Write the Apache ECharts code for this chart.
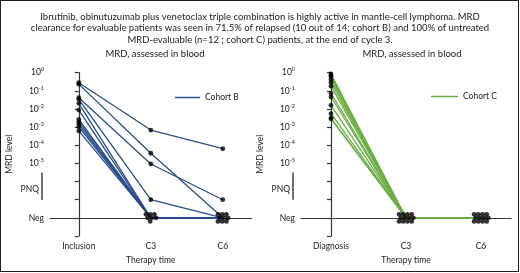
<!DOCTYPE html>
<html>
<head>
<meta charset="utf-8">
<script src="https://cdn.jsdelivr.net/npm/echarts@6/dist/echarts.min.js"></script>
<style>
  html, body { margin: 0; padding: 0; background: #fff; }
  #wrap { position: relative; width: 520px; height: 273px; }
  #chart { width: 520px; height: 273px; }
  #frame {
    position: absolute; left: 0; top: 0; width: 519px; height: 272px;
    box-sizing: border-box; border: 1.5px solid #1a1a1a; pointer-events: none;
  }
</style>
</head>
<body>
<div id="wrap"><div id="chart"></div><div id="frame"></div></div>
<script>
///////////////////////////////////////////////////
// Data
///////////////////////////////////////////////////
const headline = [
  'Ibrutinib, obinutuzumab plus venetoclax triple combination is highly active in mantle-cell lymphoma. MRD',
  'clearance for evaluable patients was seen in 71.5% of relapsed (10 out of 14; cohort B) and 100% of untreated',
  'MRD-evaluable (n=12 ; cohort C) patients, at the end of cycle 3.',
];
const panelTitle = 'MRD, assessed in blood';
const timesB = ['Inclusion', 'C3', 'C6'];
const timesC = ['Diagnosis', 'C3', 'C6'];

// y labels for plotted levels -1 .. 8 (Neg = 0, PNQ band = 1..2, 10^-5 = 3 ... 10^0 = 8)
const yLabels = ['', 'Neg', '', '', '10^-5', '10^-4', '10^-3', '10^-2', '10^-1', '10^0'];

// log10(MRD) per patient at each time point, 'PNQ' / 'Neg' when not quantifiable
const cohortB = [
  [-0.55, -3.16, -4.19],
  [-0.63, -4.44, 'Neg'],
  [-1.38, -5.03, 'PNQ'],
  [-1.47, 'PNQ', 'Neg'],
  [-1.69, 'Neg', 'Neg'],
  [-2.06, 'Neg', 'Neg'],
  [-2.57, 'Neg', 'Neg'],
  [-2.70, 'Neg', 'Neg'],
  [-2.83, 'Neg', 'Neg'],
  [-2.98, 'Neg', 'Neg'],
  [-3.21, 'Neg', 'Neg'],
];
const cohortC = [
  [-0.07, 'Neg', 'Neg'],
  [-0.15, 'Neg', 'Neg'],
  [-0.22, 'Neg', 'Neg'],
  [-0.37, 'Neg', 'Neg'],
  [-0.53, 'Neg', 'Neg'],
  [-0.74, 'Neg', 'Neg'],
  [-1.14, 'Neg', 'Neg'],
  [-1.34, 'Neg', 'Neg'],
  [-1.80, 'Neg', 'Neg'],
  [-2.26, 'Neg', 'Neg'],
  [-2.50, 'Neg', 'Neg'],
  [-2.54, 'Neg', 'Neg'],
];

///////////////////////////////////////////////////
// Chart
///////////////////////////////////////////////////
const FONT = 'Lato';
const BLUE = '#2b4c8d';
const GREEN = '#6cae45';
const INK = '#222';

const toLevel = (v) => (v === 'Neg' ? 0 : v === 'PNQ' ? 1 : 8 + v);

// pack coincident dots into a small swarm (pixel offsets), rows staggered a bit
function swarm(n, gap) {
  const cols = Math.ceil(Math.sqrt(n));
  const rows = Math.ceil(n / cols);
  const out = [];
  for (let k = 0; k < n; k++) {
    const r = Math.floor(k / cols);
    const c = k % cols;
    const inRow = Math.min(cols, n - r * cols);
    const shift = r % 2 ? gap * 0.25 : -gap * 0.15;
    out.push([(c - (inRow - 1) / 2) * gap + shift, (r - (rows - 1) / 2) * gap * 0.85]);
  }
  return out;
}

function dotData(rows) {
  const data = [];
  for (let t = 0; t < 3; t++) {
    const groups = {};
    rows.forEach((row) => {
      const lv = toLevel(row[t]);
      (groups[lv] = groups[lv] || []).push(lv);
    });
    Object.keys(groups).forEach((lv) => {
      const offs = groups[lv].length > 1 ? swarm(groups[lv].length, 4.2) : [[0, 0]];
      offs.forEach((o) => data.push({ value: [t, Number(lv)], symbolOffset: o }));
    });
  }
  return data;
}

function yLabel(v) {
  const s = yLabels[Math.round(v) + 1] || '';
  if (Math.abs(v - Math.round(v)) > 1e-6) return '';
  if (s.indexOf('^') < 0) return s;
  const p = s.split('^');
  return '{b|' + p[0] + '}{s|' + p[1] + '}';
}

function xAxis(idx, times) {
  return {
    type: 'value', gridIndex: idx, min: -0.4, max: 2.4, interval: 0.2,
    name: 'Therapy time', nameLocation: 'middle', nameGap: 19,
    nameTextStyle: { fontFamily: FONT, fontSize: 8.5, color: INK },
    axisLine: { lineStyle: { color: '#333', width: 1.2 } },
    axisTick: { show: false },
    splitLine: { show: false },
    axisLabel: {
      fontFamily: FONT, fontSize: 8.5, color: INK, margin: 6,
      formatter: (v) => {
        const i = Math.round(v);
        return Math.abs(v - i) < 1e-6 && times[i] ? times[i] : '';
      },
    },
  };
}

function yAxis(idx) {
  return {
    type: 'value', gridIndex: idx, min: -1, max: 8, interval: 1,
    name: 'MRD level', nameLocation: 'middle', nameGap: 36,
    nameTextStyle: { fontFamily: FONT, fontSize: 8.5, color: INK },
    axisLine: { show: true, lineStyle: { color: '#333', width: 1.2 } },
    axisTick: { show: true, length: 4, lineStyle: { color: '#333', width: 1.2 } },
    splitLine: { show: false },
    axisLabel: {
      fontFamily: FONT, fontSize: 8.5, color: INK, margin: 6,
      formatter: yLabel,
      rich: {
        b: { fontFamily: FONT, fontSize: 8.5, color: INK },
        s: { fontFamily: FONT, fontSize: 5.5, color: INK, padding: [0, 0, 6, 0] },
      },
    },
  };
}

function lineSeries(rows, name, idx, color) {
  return rows.map((row) => ({
    name: name, type: 'line', xAxisIndex: idx, yAxisIndex: idx,
    symbol: 'none', silent: true, z: 2,
    lineStyle: { color: color, width: 1.3 },
    itemStyle: { color: color },
    data: row.map((v, t) => [t, toLevel(v)]),
  }));
}

function dotSeries(rows, idx) {
  return {
    name: 'dots' + idx, type: 'scatter', xAxisIndex: idx, yAxisIndex: idx,
    symbolSize: 4.8, z: 3, silent: true,
    itemStyle: { color: '#000' },
    data: dotData(rows),
  };
}

const legendBase = {
  icon: 'rect', itemWidth: 25, itemHeight: 1.5, itemGap: 4,
  textStyle: { fontFamily: FONT, fontSize: 8.5, color: INK },
};

const chart = echarts.init(document.getElementById('chart'), null, { renderer: 'canvas' });

const option = {
  animation: false,
  textStyle: { fontFamily: FONT },
  title: [
    {
      text: headline.join('\n'), left: 'center', top: 6,
      textStyle: { fontFamily: FONT, fontSize: 9.5, fontWeight: 'normal', color: INK, lineHeight: 11.6 },
    },
    {
      text: panelTitle, left: 150, top: 44, textAlign: 'center',
      textStyle: { fontFamily: FONT, fontSize: 9.5, fontWeight: 'normal', color: INK },
    },
    {
      text: panelTitle, left: 407, top: 44, textAlign: 'center',
      textStyle: { fontFamily: FONT, fontSize: 9.5, fontWeight: 'normal', color: INK },
    },
  ],
  legend: [
    Object.assign({ data: ['Cohort B'], left: 170, top: 88 }, legendBase),
    Object.assign({ data: ['Cohort C'], left: 426, top: 87 }, legendBase, { itemWidth: 27 }),
  ],
  grid: [
    { left: 50, top: 72.7, width: 201.6, height: 163.3 },
    { left: 301, top: 72.7, width: 210, height: 163.3 },
  ],
  xAxis: [xAxis(0, timesB), xAxis(1, timesC)],
  yAxis: [yAxis(0), yAxis(1)],
  series: [
    ...lineSeries(cohortB, 'Cohort B', 0, BLUE),
    ...lineSeries(cohortC, 'Cohort C', 1, GREEN),
    dotSeries(cohortB, 0),
    dotSeries(cohortC, 1),
  ],
};
chart.setOption(option);

// PNQ band marker beside each y axis, placed through the axes
const graphic = [];
[0, 1].forEach((idx) => {
  const ax = chart.convertToPixel({ xAxisIndex: idx }, -0.4);
  const y1 = chart.convertToPixel({ yAxisIndex: idx }, 1);
  const y2 = chart.convertToPixel({ yAxisIndex: idx }, 2.5);
  const ym = chart.convertToPixel({ yAxisIndex: idx }, 1.55);
  graphic.push({
    type: 'line', silent: true,
    shape: { x1: ax - 8, y1: y1, x2: ax - 8, y2: y2 },
    style: { stroke: '#333', lineWidth: 1.4 },
  });
  graphic.push({
    type: 'text', silent: true, x: ax - 11, y: ym,
    style: { text: 'PNQ', fontFamily: FONT, fontSize: 8.5, fill: INK, align: 'right', verticalAlign: 'middle' },
  });
});
chart.setOption({ graphic: graphic });
</script>
</body>
</html>
